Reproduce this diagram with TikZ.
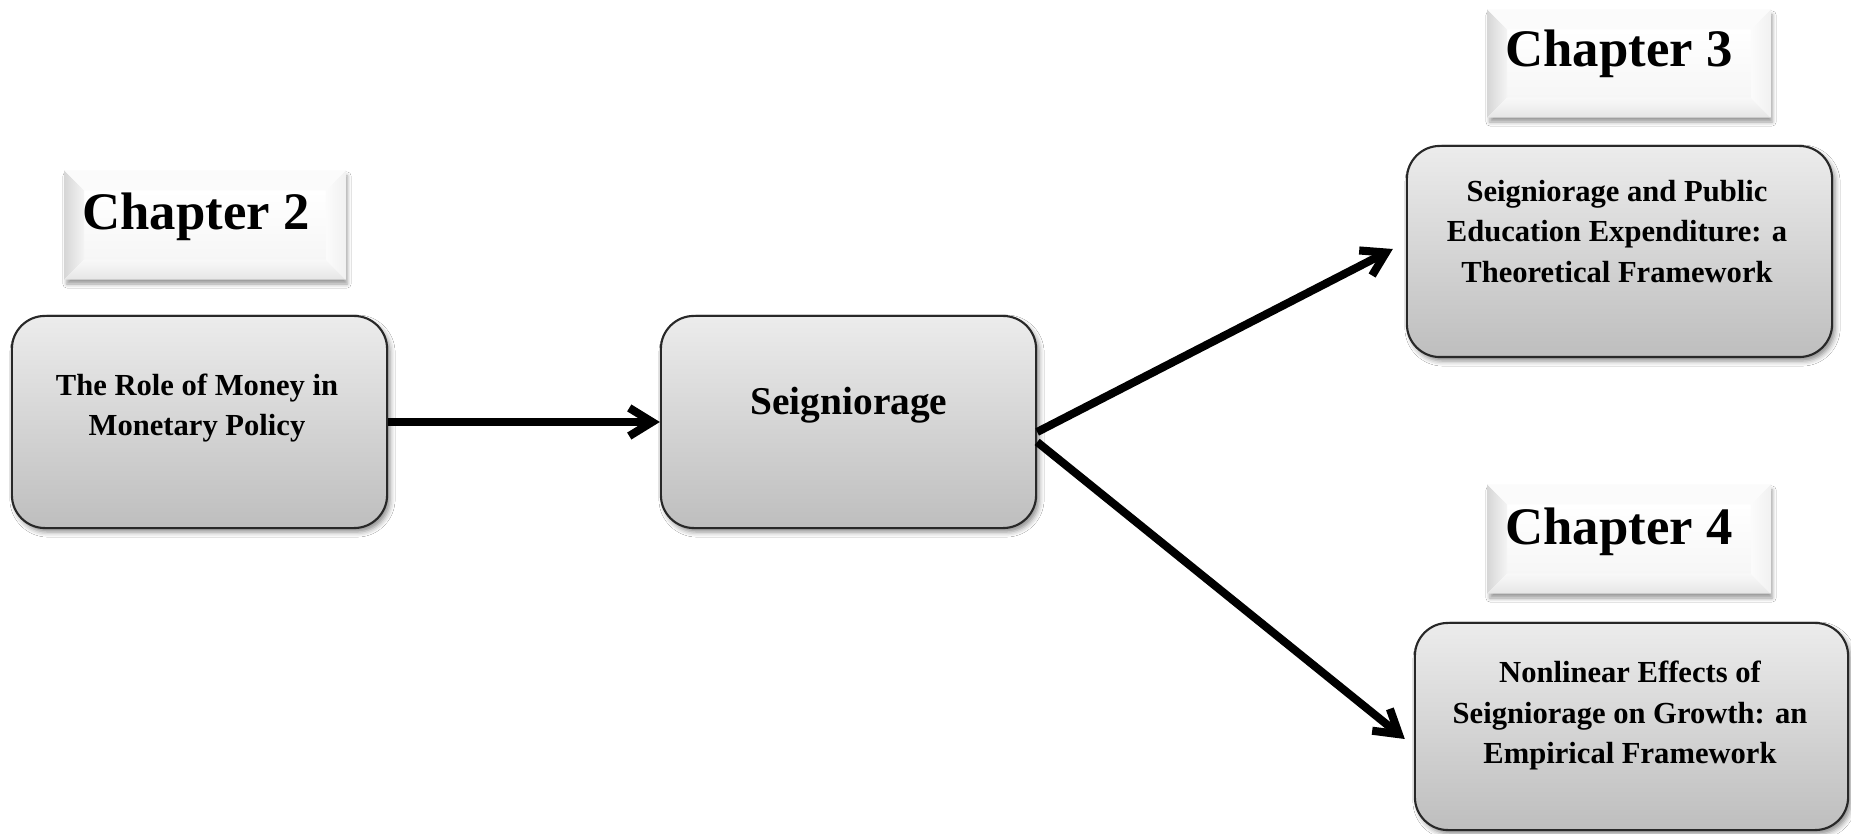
\documentclass[tikz,border=0pt]{standalone}
\usepackage{fontspec}
\setmainfont{Liberation Serif}
\usetikzlibrary{arrows.meta,calc,shadows.blur}
\definecolor{boxtop}{RGB}{236,236,236}
\definecolor{boxbot}{RGB}{190,190,190}
\definecolor{edgec}{RGB}{40,40,40}
\newcommand\drawbevel[1]{%
 \shade[top color=white, bottom color=gray!7] ($(#1.north west)+(20,20)$) rectangle ($(#1.south east)+(-20,-20)$);
 \shade[left color=gray!32, right color=gray!8] (#1.north west) -- (#1.south west) -- ($(#1.south west)+(20,-20)$) -- ($(#1.north west)+(20,20)$) -- cycle;
 \shade[top color=gray!5, bottom color=gray!20] (#1.south west) -- (#1.south east) -- ($(#1.south east)+(-20,-20)$) -- ($(#1.south west)+(20,-20)$) -- cycle;
 \shade[left color=gray!3, right color=gray!11] (#1.north east) -- (#1.south east) -- ($(#1.south east)+(-20,-20)$) -- ($(#1.north east)+(-20,20)$) -- cycle;
 \fill[gray!3] (#1.north west) -- (#1.north east) -- ($(#1.north east)+(-20,20)$) -- ($(#1.north west)+(20,20)$) -- cycle;
}
\begin{document}
\begin{tikzpicture}[x=0.01cm,y=-0.01cm,
 mbox/.style={draw=edgec, line width=0.6pt, rounded corners=0.33cm, top color=boxtop, bottom color=boxbot, inner sep=0pt,
   blur shadow={shadow xshift=0.03cm, shadow yshift=-0.04cm, shadow blur radius=0.05cm, shadow opacity=45}},
 chap/.style={fill=white, inner sep=0pt,
   blur shadow={shadow xshift=0.02cm, shadow yshift=-0.05cm, shadow blur radius=0.04cm, shadow opacity=40}},
 chaptext/.style={font=\fontsize{15}{18}\selectfont\bfseries, anchor=base, inner sep=0pt},
 boxtext/.style={font=\fontsize{8.7}{11.4}\selectfont\bfseries, align=center, inner sep=0pt},
 conn/.style={line width=2.3pt, -{Straight Barb[length=6.5pt,width=8pt]}},
]
\useasboundingbox (0,0) rectangle (1851,834);
\fill[white] (0,0) rectangle (1851,834);

% main boxes
\node[mbox, minimum width=3.75cm, minimum height=2.12cm] (b1) at (199.5,422) {};
\node[mbox, minimum width=3.75cm, minimum height=2.12cm] (seig) at (848.5,422) {};
\node[mbox, minimum width=4.25cm, minimum height=2.11cm] (b3) at (1619.5,251.5) {};
\node[mbox, minimum width=4.33cm, minimum height=2.07cm] (b4) at (1631.5,726.5) {};

\node[boxtext] (t1) at (197,408) {The Role of Money in\\Monetary Policy};
\node[font=\fontsize{11.2}{13}\selectfont\bfseries, anchor=base, inner sep=0pt] (ts) at (849,415) {Seigniorage};
\node[boxtext] (t3) at (1617,231.5) {Seigniorage and Public\\Education Expenditure: a\\Theoretical Framework};
\node[boxtext] (t4) at (1630,715.5) {Nonlinear Effects of\\Seigniorage on Growth: an\\Empirical Framework};

% chapter labels
\node[chap, minimum width=2.8cm, minimum height=1.08cm] (c2) at (205,225) {};
\drawbevel{c2}
\node[chaptext] (c2t) at (196,230) {Chapter 2};
\node[chap, minimum width=2.82cm, minimum height=1.07cm] (c3) at (1629,63.5) {};
\drawbevel{c3}
\node[chaptext] (c3t) at (1619,67) {Chapter 3};
\node[chap, minimum width=2.82cm, minimum height=1.08cm] (c4) at (1629,539) {};
\drawbevel{c4}
\node[chaptext] (c4t) at (1619,545) {Chapter 4};

% connectors
\coordinate (s2) at ($(seig.east)+(0,10)$);
\coordinate (s3) at ($(seig.east)+(0,20)$);
\coordinate (e2) at ($(b3.west)+(-13,-2.5)$);
\coordinate (e3) at ($(b4.west)+(-9,12.5)$);
\draw[conn] (b1.east) -- (seig.west);
\draw[conn] (s2) -- (e2);
\draw[conn] (s3) -- (e3);
\end{tikzpicture}
\end{document}
